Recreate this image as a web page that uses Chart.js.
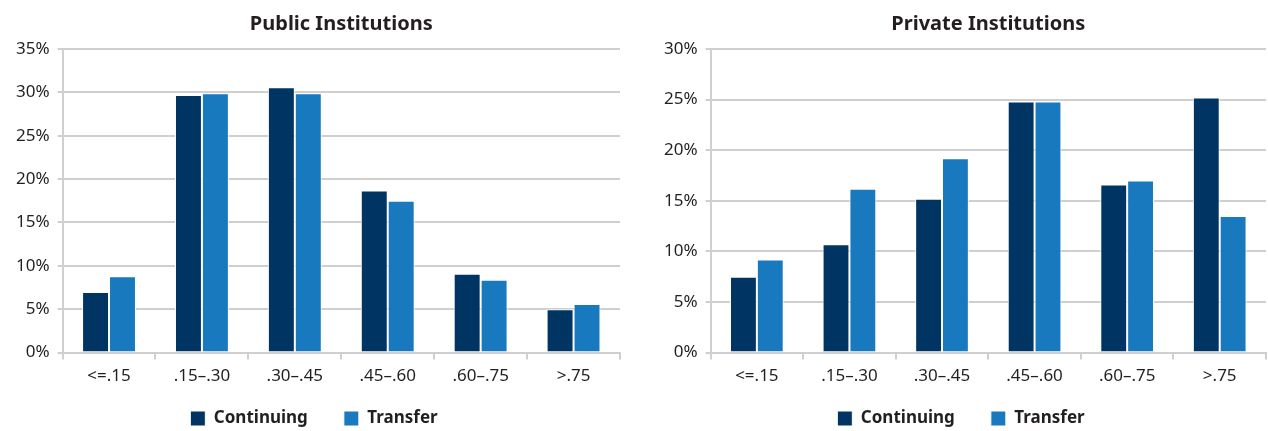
<!DOCTYPE html>
<html>
<head>
<meta charset="utf-8">
<script src="https://cdn.jsdelivr.net/npm/chart.js@4.4.1/dist/chart.umd.min.js"></script>
<style>
  html, body { margin: 0; padding: 0; background: #fff; }
  #wrap { position: relative; width: 1268px; height: 431px; }
  canvas { position: absolute; top: 0; }
  #publicChart { left: 0; }
  #privateChart { left: 640px; }
</style>
</head>
<body>
<div id="wrap">
  <canvas id="publicChart" width="630" height="431"></canvas>
  <canvas id="privateChart" width="628" height="431"></canvas>
</div>
<script>
const categories = ['<=.15', '.15\u2013.30', '.30\u2013.45', '.45\u2013.60', '.60\u2013.75', '>.75'];
const seriesNames = ['Continuing', 'Transfer'];

const publicContinuing = [7.0, 29.7, 30.6, 18.7, 9.1, 5.0];
const publicTransfer   = [8.8, 29.9, 29.9, 17.5, 8.4, 5.6];

const privateContinuing = [7.5, 10.7, 15.2, 24.8, 16.6, 25.2];
const privateTransfer   = [9.2, 16.2, 19.2, 24.8, 17.0, 13.5];

const DARK = '#003462';
const LIGHT = '#1879be';
const GRID = '#cfcfcf';
const TEXT = '#231f20';
const FONT = '"Noto Sans", "Open Sans", sans-serif';

// wide legend item spacing also pads the legend vertically; take some of that back
const TRIM = 24, SHIFT = 18;
const legendTrim = {
  id: 'legendTrim',
  afterInit(chart) {
    const lg = chart.legend;
    if (!lg) return;
    const fit = lg.fit, drawItems = lg._draw;
    lg.fit = function () {
      fit.call(this);
      this.height -= TRIM;
    };
    lg._draw = function () {
      const ctx = this.ctx;
      ctx.save();
      ctx.translate(0, -SHIFT);
      drawItems.call(this);
      ctx.restore();
    };
  }
};

function makeChart(id, title, cont, trans, yMax, pad) {
  new Chart(document.getElementById(id), {
    type: 'bar',
    data: {
      labels: categories,
      datasets: [
        { label: seriesNames[0], data: cont, backgroundColor: DARK, borderColor: '#fff', borderWidth: 1 },
        { label: seriesNames[1], data: trans, backgroundColor: LIGHT, borderColor: '#fff', borderWidth: 1 }
      ]
    },
    plugins: [legendTrim],
    options: {
      responsive: false,
      animation: false,
      layout: { padding: pad },
      categoryPercentage: 0.58,
      barPercentage: 1.0,
      plugins: {
        title: {
          display: true,
          text: title,
          fullSize: false,
          color: TEXT,
          font: { family: FONT, size: 20, weight: 'bold' },
          padding: { top: 0, bottom: 13 }
        },
        legend: {
          position: 'bottom',
          labels: {
            color: TEXT,
            boxWidth: 15,
            boxHeight: 15,
            padding: 36,
            font: { family: FONT, size: 17, weight: 'bold' }
          }
        },
        tooltip: { enabled: false }
      },
      scales: {
        x: {
          grid: { offset: true, drawOnChartArea: false, drawTicks: true, tickLength: 7, color: GRID, lineWidth: 2 },
          border: { color: GRID, width: 2 },
          ticks: { color: TEXT, font: { family: FONT, size: 17 }, padding: 6 }
        },
        y: {
          min: 0,
          max: yMax,
          grid: { color: GRID, lineWidth: 2, tickLength: 5 },
          border: { color: GRID, width: 2 },
          ticks: {
            stepSize: 5,
            color: TEXT,
            font: { family: FONT, size: 17 },
            padding: 8,
            callback: v => v + '%'
          }
        }
      }
    }
  });
}

makeChart('publicChart', 'Public Institutions', publicContinuing, publicTransfer, 35,
  { left: 8, right: 10, top: 12, bottom: 0 });
makeChart('privateChart', 'Private Institutions', privateContinuing, privateTransfer, 30,
  { left: 16, right: 2, top: 12, bottom: 0 });
</script>
</body>
</html>
